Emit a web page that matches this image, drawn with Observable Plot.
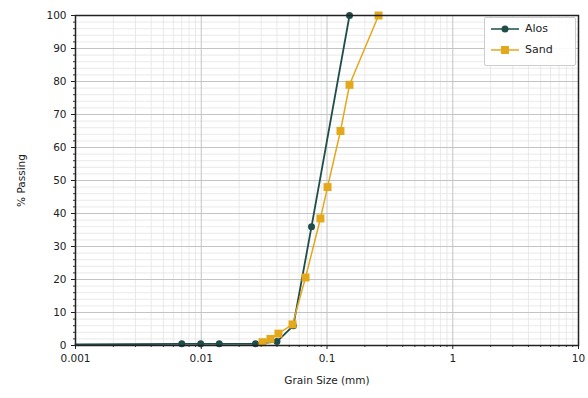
<!DOCTYPE html>
<html><head><meta charset="utf-8">
<script src="https://cdn.jsdelivr.net/npm/d3@7"></script>
<script src="https://cdn.jsdelivr.net/npm/@observablehq/plot@0.6"></script>
<style>
body{margin:0;background:#fff;font-family:"DejaVu Sans",sans-serif;}
#wrap{position:relative;width:588px;height:398px;}
#legend{position:absolute;left:484px;top:17px;width:90px;height:47px;border:1px solid #ccc;border-radius:2px;background:rgba(255,255,255,0.9);font-size:11px;color:#222;}
.row{display:flex;align-items:center;height:21px;margin-left:6px;}
.row span{margin-left:6px;}
</style></head>
<body><div id="wrap"><div id="legend"></div></div>
<script>
const alosSize = [0.001, 0.007, 0.0099, 0.0139, 0.027, 0.04, 0.054, 0.0753, 0.151];
const alosPass = [0.3, 0.5, 0.5, 0.5, 0.5, 1.2, 6, 36, 100];
const alosMarker = [false, true, true, true, true, true, true, true, true];
const sandSize = [0.0307, 0.0355, 0.0411, 0.0532, 0.0675, 0.0887, 0.101, 0.128, 0.151, 0.257];
const sandPass = [1, 2, 3.6, 6.4, 20.6, 38.5, 48, 65, 79, 100];
const xTicks = [0.001, 0.01, 0.1, 1, 10];
const xTickLabels = ["0.001", "0.01", "0.1", "1", "10"];
const yTicks = [0, 10, 20, 30, 40, 50, 60, 70, 80, 90, 100];
const seriesNames = ["Alos", "Sand"];
const colors = ["#1f4d4a", "#e3a81b"];

const alos = alosSize.map((d, i) => ({size: d, pass: alosPass[i], m: alosMarker[i], s: "Alos"}));
const sand = sandSize.map((d, i) => ({size: d, pass: sandPass[i], s: "Sand"}));

const xMinor = [];
for (const m of xTicks.slice(0, -1)) for (let k = 2; k <= 9; k++) xMinor.push(m * k);
const yMinor = [];
for (let v = 0; v <= 100; v += 2) if (v % 10) yMinor.push(v);

const chart = Plot.plot({
  width: 588, height: 398,
  marginLeft: 75, marginRight: 10, marginTop: 15, marginBottom: 53,
  style: {fontFamily: "DejaVu Sans, sans-serif", fontSize: "10px", color: "#222"},
  x: {type: "log", domain: [0.001, 10], label: "Grain Size (mm)", labelAnchor: "center", labelArrow: "none"},
  y: {domain: [0, 100], label: "% Passing", labelAnchor: "center", labelArrow: "none"},
  marks: [
    Plot.ruleX(xMinor, {stroke: "#e4e4e4", strokeWidth: 0.8}),
    Plot.ruleY(yMinor, {stroke: "#e4e4e4", strokeWidth: 0.8}),
    Plot.ruleX(xTicks, {stroke: "#c4c4c4", strokeWidth: 1}),
    Plot.ruleY(yTicks, {stroke: "#c4c4c4", strokeWidth: 1}),
    Plot.axisX({ticks: xMinor, tickSize: 2, text: null, label: null, stroke: "#333"}),
    Plot.axisY({ticks: yMinor, tickSize: 2, text: null, label: null, stroke: "#333"}),
    Plot.axisX({ticks: xTicks, tickSize: 4, tickFormat: d => xTickLabels[xTicks.indexOf(d)], label: "Grain Size (mm)", labelAnchor: "center", labelArrow: "none", labelOffset: 38, fontSize: 10.5}),
    Plot.axisY({ticks: yTicks, tickSize: 4, label: "% Passing", labelAnchor: "center", labelArrow: "none", labelOffset: 58, fontSize: 10.5}),
    Plot.line(alos, {x: "size", y: "pass", stroke: colors[0], strokeWidth: 1.8}),
    Plot.dot(alos.filter(d => d.m), {x: "size", y: "pass", fill: colors[0], r: 3.5, symbol: "circle"}),
    Plot.line(sand, {x: "size", y: "pass", stroke: colors[1], strokeWidth: 1.5}),
    Plot.dot(sand, {x: "size", y: "pass", fill: colors[1], r: 4.5, symbol: "square"}),
    Plot.frame({stroke: "#222", strokeWidth: 1.5})
  ]
});
document.getElementById("wrap").prepend(chart);

const leg = document.getElementById("legend");
seriesNames.forEach((n, i) => {
  const row = document.createElement("div");
  row.className = "row";
  const shape = i === 0 ? `<circle cx="14" cy="6" r="3.5" fill="${colors[i]}"/>` : `<rect x="10" y="2" width="8" height="8" fill="${colors[i]}"/>`;
  row.innerHTML = `<svg width="28" height="12"><line x1="0" x2="28" y1="6" y2="6" stroke="${colors[i]}" stroke-width="1.5"/>${shape}</svg><span>${n}</span>`;
  leg.appendChild(row);
});
</script></body></html>
